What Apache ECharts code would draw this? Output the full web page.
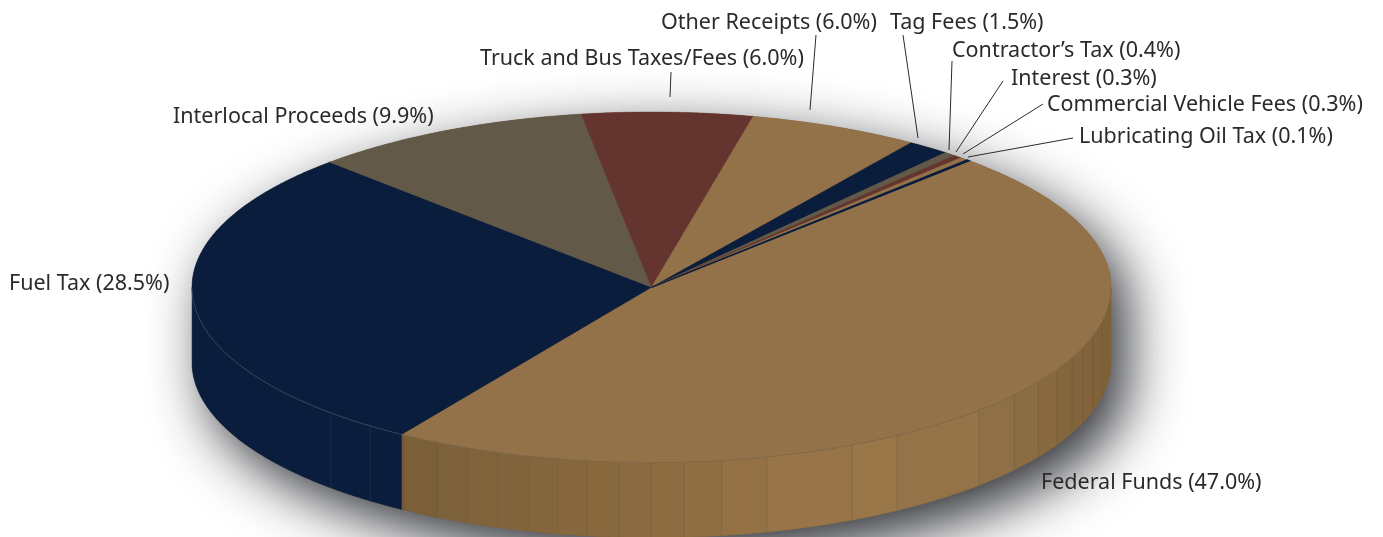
<!DOCTYPE html>
<html><head><meta charset="utf-8">
<style>html,body{margin:0;padding:0;background:#fff}#c{width:1383px;height:537px}</style>
<script src="https://cdn.jsdelivr.net/npm/echarts@6/dist/echarts.min.js"></script>
</head><body><div id="c"></div>
<script>
const categories = ['Federal Funds','Fuel Tax','Interlocal Proceeds','Truck and Bus Taxes/Fees','Other Receipts','Tag Fees','Contractor\u2019s Tax','Interest','Commercial Vehicle Fees','Lubricating Oil Tax'];
const values = [47.0,28.5,9.9,6.0,6.0,1.5,0.4,0.3,0.3,0.1];
const palette = ['#93724A','#0B1D3D','#625948','#64342F'];
// layout
const CX=651.5, CY=287.3, RX=459.5, RY=175.3, DEPTH=75, START=-46.25;
const labelPos = [[1041,482.5],[9,283.5],[173,116.5],[480,58.5],[661,22.5],[890,22.5],[952,50.5],[1011,78.5],[1047,104.5],[1079,136.5]];
const leaders = [[[671,72],[670,97]],[[816,35],[810,110]],[[903,35],[918,138]],[[952,61],[949,150]],[[1003,81],[956,152]],[[1043,104],[963,154]],[[1073,138],[968,157]]];
const fedFacetX = [404,437,468,498,528,558,587,619,651,684,722,767,852,897,979,1014,1038,1057,1072,1083,1093,1102,1111.5];
const fuelFacetX = [192,331,370,402];
const shadeStops = [[402,[122,94,56]],[650,[139,107,64]],[852,[156,120,74]],[1000,[143,112,70]],[1111,[126,96,57]]];

const total = values.reduce((a,b)=>a+b,0);
const starts = []; values.reduce((acc,v,i)=>{starts[i]=acc;return acc+v;},0);
const ang = p => (START + p/total*360)*Math.PI/180;
const pt = (a,dy=0)=>[CX+RX*Math.cos(a), CY+RY*Math.sin(a)+dy];
function arc(a0,a1,dy=0){const n=Math.max(2,Math.ceil(Math.abs(a1-a0)/0.008));const o=[];for(let i=0;i<=n;i++)o.push(pt(a0+(a1-a0)*i/n,dy));return o;}
const xToAng = x => Math.acos(Math.max(-1,Math.min(1,(x-CX)/RX)));
function shade(x){for(let i=1;i<shadeStops.length;i++){const [x0,c0]=shadeStops[i-1],[x1,c1]=shadeStops[i];if(x<=x1){const t=Math.max(0,(x-x0)/(x1-x0));return 'rgb('+c0.map((c,k)=>Math.round(c+(c1[k]-c)*t)).join(',')+')';}}return 'rgb(126,96,57)';}
function facet(x0,x1,fill,line){
  const a0=xToAng(x1),a1=xToAng(x0);
  return [{type:'polygon',shape:{points:arc(a0,a1).concat(arc(a0,a1,DEPTH).reverse())},style:{fill,stroke:fill,lineWidth:0.5}},
          {type:'line',shape:{x1:x0,y1:pt(a1)[1],x2:x0,y2:pt(a1)[1]+DEPTH},style:{stroke:line,lineWidth:0.7}}];
}
const silhouette = arc(Math.PI,2*Math.PI).concat(arc(0,Math.PI,DEPTH));

const option = {
  animation:false,
  series:[
  {type:'custom',coordinateSystem:'none',silent:true,data:[0],
   renderItem(){
     const ch=[{type:'polygon',shape:{points:silhouette},style:{fill:'#7a5e38',shadowBlur:56,shadowColor:'rgba(28,30,36,0.92)',shadowOffsetX:16,shadowOffsetY:20}}];
     for(let i=1;i<fuelFacetX.length;i++) ch.push(...facet(fuelFacetX[i-1],fuelFacetX[i],palette[1],'rgba(255,255,255,0.12)'));
     const fed=[402].concat(fedFacetX);
     for(let i=1;i<fed.length;i++) ch.push(...facet(fed[i-1],fed[i],shade((fed[i-1]+fed[i])/2),'rgba(90,75,55,0.35)'));
     return {type:'group',children:ch};
   }},
  {type:'custom',coordinateSystem:'none',silent:true,data:values.map(v=>[v]),
   renderItem(p,api){
     const i=p.dataIndex,a0=ang(starts[i]),a1=ang(starts[i]+api.value(0)),c=palette[i%palette.length];
     return {type:'polygon',shape:{points:[[CX,CY]].concat(arc(a0,a1))},style:{fill:c,stroke:c,lineWidth:api.value(0)<0.2?1.3:0.4}};
   }},
  {type:'custom',coordinateSystem:'none',silent:true,data:[0],
   renderItem(){
     const rim=(a,b,c)=>({type:'polyline',shape:{points:arc(a,b)},style:{fill:'none',stroke:c,lineWidth:0.7}});
     const fedEnd=ang(values[0]);
     return {type:'group',children:[rim(0,fedEnd,'rgba(110,95,80,0.7)'),rim(fedEnd,Math.PI-0.01,'rgba(255,255,255,0.25)')]
       .concat(leaders.map(l=>({type:'line',shape:{x1:l[0][0],y1:l[0][1],x2:l[1][0],y2:l[1][1]},style:{stroke:'#2b2a2b',lineWidth:1}})))};
   }},
  {type:'custom',coordinateSystem:'none',silent:true,data:values.map(v=>[v]),
   renderItem(p,api){
     const i=p.dataIndex;
     return {type:'text',x:labelPos[i][0],y:labelPos[i][1],style:{text:categories[i]+' ('+api.value(0).toFixed(1)+'%)',fill:'#2b2a2b',font:'21.5px "Noto Sans"',textAlign:'left',textVerticalAlign:'middle'}};
   }}
  ]
};
echarts.init(document.getElementById('c'),null,{renderer:'canvas'}).setOption(option);
</script></body></html>
